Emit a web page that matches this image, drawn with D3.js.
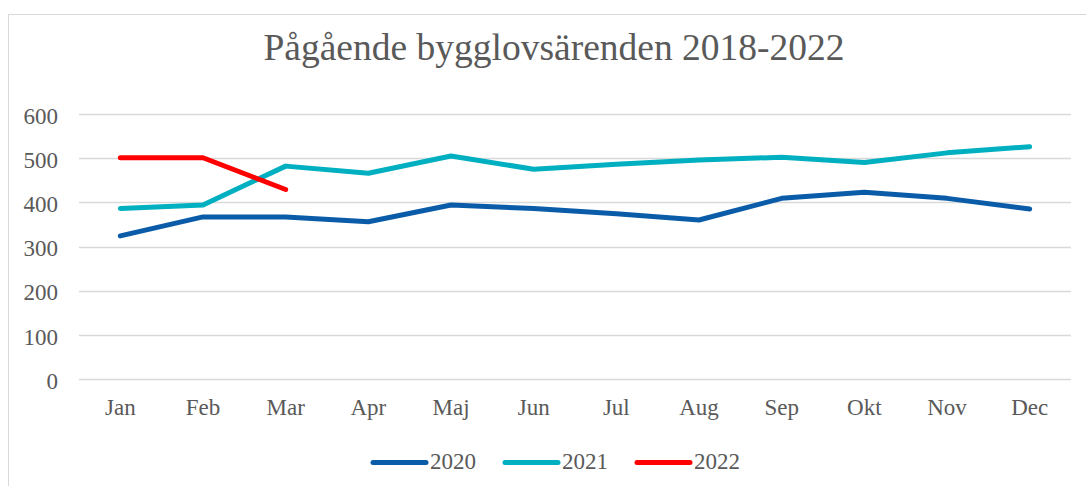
<!DOCTYPE html>
<html>
<head>
<meta charset="utf-8">
<script src="https://cdn.jsdelivr.net/npm/d3@7"></script>
<style>
  body { margin: 0; background: #fff; }
  svg { display: block; font-family: "Liberation Serif", "Times New Roman", serif; }
</style>
</head>
<body>
<svg id="chart" width="1086" height="486"></svg>
<script>
// Data
const months = ["Jan", "Feb", "Mar", "Apr", "Maj", "Jun", "Jul", "Aug", "Sep", "Okt", "Nov", "Dec"];
const values2020 = [324, 367, 367, 356, 394, 386, 374, 360, 409, 423, 409, 385];
const values2021 = [386, 394, 482, 466, 505, 475, 486, 496, 502, 490, 512, 526];
const values2022 = [501, 501, 429];
const yTicks = [0, 100, 200, 300, 400, 500, 600];

const series = [
  { name: "2020", values: values2020, color: "#0B5CA8" },
  { name: "2021", values: values2021, color: "#00AFC0" },
  { name: "2022", values: values2022, color: "#FF0000" }
];

const svg = d3.select("#chart");
const textColor = "#595959";

// chart frame
svg.append("rect")
  .attr("x", 8.5).attr("y", 14.5)
  .attr("width", 1100).attr("height", 500)
  .attr("fill", "none")
  .attr("stroke", "#D9D9D9");

// title
svg.append("text")
  .attr("x", 554).attr("y", 60)
  .attr("text-anchor", "middle")
  .attr("fill", textColor)
  .style("font-size", "37.5px")
  .text("Pågående bygglovsärenden 2018-2022");

const x = d3.scaleBand().domain(months).range([79, 1071]);
const y = d3.scaleLinear().domain([0, 600]).range([379, 114]);

// gridlines
svg.append("g")
  .selectAll("line")
  .data(yTicks)
  .join("line")
  .attr("x1", 79).attr("x2", 1071)
  .attr("y1", d => Math.round(y(d)) + 0.5)
  .attr("y2", d => Math.round(y(d)) + 0.5)
  .attr("stroke", "#D9D9D9")
  .attr("stroke-width", 1.5);

// y axis labels
const yAxis = svg.append("g")
  .attr("transform", "translate(66,0)")
  .call(d3.axisLeft(y).tickValues(yTicks).tickSize(0).tickPadding(8));
yAxis.select(".domain").remove();
yAxis.selectAll("text")
  .attr("fill", textColor)
  .attr("dy", "0.4em")
  .style("font-family", "Liberation Serif, serif")
  .style("font-size", "23px");

// x axis labels
const xAxis = svg.append("g")
  .attr("transform", "translate(0,393)")
  .call(d3.axisBottom(x).tickSize(0).tickPadding(6));
xAxis.select(".domain").remove();
xAxis.selectAll("text")
  .attr("fill", textColor)
  .style("font-family", "Liberation Serif, serif")
  .style("font-size", "23px");

// lines
const line = d3.line()
  .x((d, i) => x(months[i]) + x.bandwidth() / 2)
  .y(d => y(d));

svg.append("g")
  .selectAll("path")
  .data(series)
  .join("path")
  .attr("d", d => line(d.values))
  .attr("fill", "none")
  .attr("stroke", d => d.color)
  .attr("stroke-width", 5)
  .attr("stroke-linecap", "round")
  .attr("stroke-linejoin", "round");

// legend
const legendX = [373, 505, 637];
const legend = svg.append("g")
  .selectAll("g")
  .data(series)
  .join("g")
  .attr("transform", (d, i) => `translate(${legendX[i]},462.5)`);
legend.append("line")
  .attr("x1", 0).attr("x2", 53)
  .attr("stroke", d => d.color)
  .attr("stroke-width", 5)
  .attr("stroke-linecap", "round");
legend.append("text")
  .attr("x", 57).attr("y", 6)
  .attr("fill", textColor)
  .style("font-size", "23px")
  .text(d => d.name);
</script>
</body>
</html>
